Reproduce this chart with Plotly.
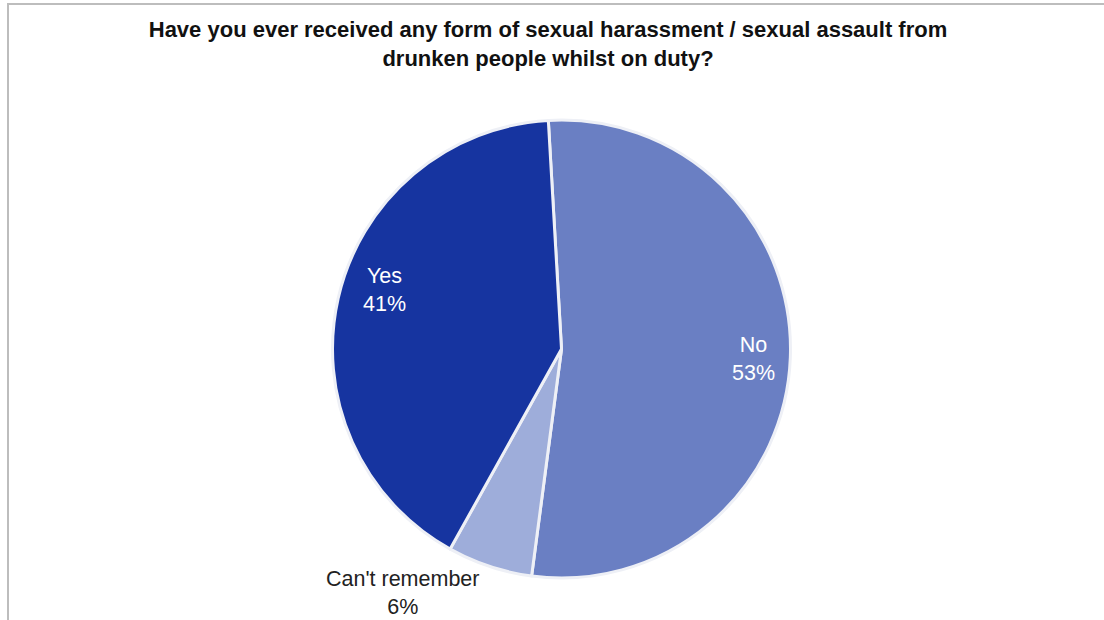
import plotly.graph_objects as go

# Data
categories = ["No", "Can't remember", "Yes"]
values = [53, 6, 41]
colors = ["#6A7FC3", "#9EADDA", "#1634A0"]

title_text = ("Have you ever received any form of sexual harassment / sexual assault from"
              "<br>drunken people whilst on duty?")

W, H = 1104, 620
cx, cy, R = 561.5, 349, 229

fig = go.Figure(go.Pie(
    labels=categories,
    values=values,
    sort=False,
    direction="clockwise",
    rotation=-3.3,
    marker=dict(colors=colors, line=dict(color="#EEF0F6", width=3)),
    textinfo="none",
    hoverinfo="label+percent",
    showlegend=False,
    domain=dict(x=[(cx - R) / W, (cx + R) / W],
                y=[(H - cy - R) / H, (H - cy + R) / H]),
))

total = sum(values)
label_pos = {"Yes": (384.5, 290, "white"),
             "No": (753, 359, "white"),
             "Can't remember": (402, 593, "#222222")}
annotations = []
for cat, v in zip(categories, values):
    px, py, col = label_pos[cat]
    annotations.append(dict(
        x=px / W, y=1 - py / H, xref="paper", yref="paper",
        text=f"{cat}<br>{round(100 * v / total)}%",
        showarrow=False, xanchor="center", yanchor="middle",
        font=dict(family="Liberation Sans, Arial, sans-serif", size=21.5, color=col),
    ))

fig.update_layout(
    width=W, height=H,
    margin=dict(l=0, r=0, t=0, b=0),
    paper_bgcolor="white",
    plot_bgcolor="white",
    title=dict(text=title_text, x=548 / W, xanchor="center",
               y=1 - 37 / H, yanchor="middle", yref="container",
               font=dict(family="Liberation Sans, Arial, sans-serif", size=22,
                         color="#111111", weight="bold")),
    annotations=annotations,
    shapes=[dict(type="rect", xref="paper", yref="paper",
                 x0=8 / W, x1=1.02, y0=-0.02, y1=1 - 4 / H,
                 line=dict(color="#BDBDBD", width=2))],
)

fig.write_html("out.html",
               config={"displayModeBar": False},
               post_script="document.body.style.margin='0';document.body.style.overflow='hidden';")
